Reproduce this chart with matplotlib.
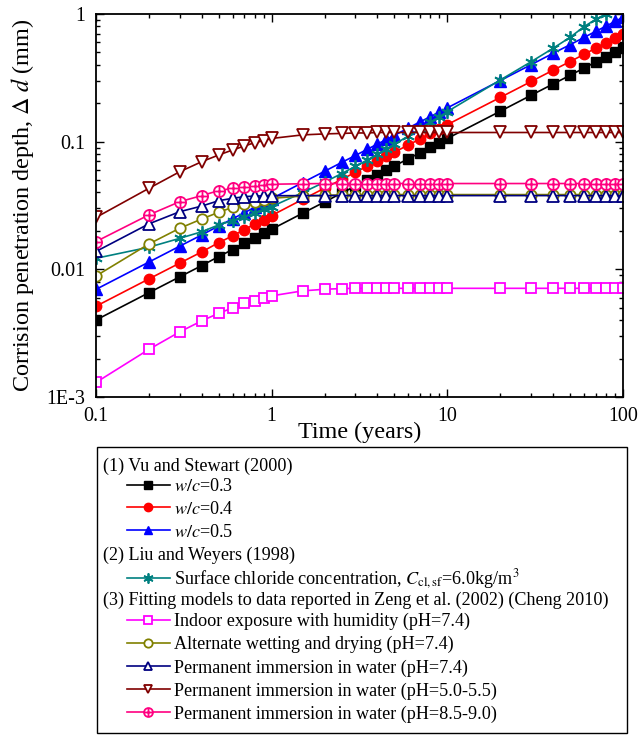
import matplotlib
matplotlib.use("Agg")
import matplotlib.pyplot as plt
from matplotlib.path import Path
from matplotlib.patches import Rectangle
from matplotlib.ticker import LogLocator, NullFormatter

plt.rcParams['font.family'] = ['Liberation Serif', 'DejaVu Serif']
plt.rcParams['mathtext.fontset'] = 'stix'

# time axis (years)
time_years = [0.1, 0.2, 0.3, 0.4, 0.5, 0.6, 0.7, 0.8, 0.9, 1.0,
              1.5, 2, 2.5, 3, 3.5, 4, 4.5, 5, 6, 7, 8, 9, 10,
              20, 30, 40, 50, 60, 70, 80, 90, 100]

# (1) Vu and Stewart (2000)
wc_03 = [0.00401, 0.00656, 0.00874, 0.0107, 0.0126, 0.0143, 0.0160, 0.0176, 0.0191, 0.0206,
         0.0275, 0.0337, 0.0395, 0.0449, 0.0501, 0.0551, 0.0599, 0.0646, 0.0735, 0.0820,
         0.0902, 0.0981, 0.106, 0.173, 0.231, 0.283, 0.331, 0.377, 0.421, 0.462, 0.503, 0.542]
wc_04 = [0.00514, 0.00841, 0.0112, 0.0137, 0.0162, 0.0183, 0.0205, 0.0226, 0.0245, 0.0264,
         0.0353, 0.0432, 0.0506, 0.0576, 0.0642, 0.0706, 0.0768, 0.0828, 0.0942, 0.105,
         0.116, 0.126, 0.136, 0.222, 0.296, 0.363, 0.424, 0.483, 0.540, 0.592, 0.645, 0.695]
wc_05 = [0.00697, 0.0114, 0.0152, 0.0186, 0.0219, 0.0249, 0.0278, 0.0306, 0.0332, 0.0358,
         0.0478, 0.0586, 0.0687, 0.0780, 0.0871, 0.0958, 0.104, 0.112, 0.128, 0.143,
         0.157, 0.170, 0.184, 0.301, 0.401, 0.492, 0.575, 0.655, 0.732, 0.803, 0.874, 0.942]

# (2) Liu and Weyers (1998)
liu_weyers = [0.0122, 0.0149, 0.0175, 0.0197, 0.0223, 0.0241, 0.0259, 0.0278, 0.0295, 0.031,
              0.0399, 0.0482, 0.0562, 0.0641, 0.0719, 0.0797, 0.0875, 0.0953, 0.111, 0.126,
              0.142, 0.157, 0.172, 0.304, 0.423, 0.539, 0.657, 0.796, 0.909, 1.0, 1.12, 1.24]

# (3) Zeng et al. (2002) / Cheng (2010)
indoor = [0.0013, 0.00236, 0.00324, 0.00395, 0.00453, 0.00499, 0.0054, 0.00569, 0.00594, 0.0062,
          0.00678, 0.00698, 0.00707, 0.0071, 0.0071, 0.0071, 0.0071, 0.0071, 0.0071, 0.0071,
          0.0071, 0.0071, 0.0071, 0.0071, 0.0071, 0.0071, 0.0071, 0.0071, 0.0071, 0.0071, 0.0071, 0.0071]
wet_dry = [0.00887, 0.0158, 0.021, 0.0248, 0.028, 0.0306, 0.0325, 0.0339, 0.0349, 0.036,
           0.0375, 0.038, 0.0383, 0.0384, 0.0385, 0.0385, 0.0385, 0.0385, 0.0385, 0.0385,
           0.0385, 0.0385, 0.0385, 0.0385, 0.0385, 0.0385, 0.0385, 0.0385, 0.0385, 0.0385, 0.0385, 0.0385]
immersion_74 = [0.0138, 0.0227, 0.0283, 0.0313, 0.0345, 0.036, 0.0371, 0.0375, 0.0376, 0.0377,
                0.0378, 0.0378, 0.0378, 0.0378, 0.0378, 0.0378, 0.0378, 0.0378, 0.0378, 0.0378,
                0.0378, 0.0378, 0.0378, 0.0378, 0.0378, 0.0378, 0.0378, 0.0378, 0.0378, 0.0378, 0.0378, 0.0378]
immersion_50 = [0.0255, 0.0431, 0.0582, 0.0697, 0.0787, 0.0861, 0.0925, 0.0982, 0.102, 0.106,
                0.113, 0.115, 0.116, 0.117, 0.117, 0.118, 0.118, 0.118, 0.118, 0.118,
                0.118, 0.118, 0.118, 0.118, 0.118, 0.118, 0.118, 0.118, 0.118, 0.118, 0.118, 0.118]
immersion_85 = [0.0165, 0.0267, 0.0339, 0.0378, 0.0414, 0.0431, 0.0445, 0.0452, 0.0458, 0.0464,
                0.0468, 0.047, 0.047, 0.047, 0.047, 0.047, 0.047, 0.047, 0.047, 0.047,
                0.047, 0.047, 0.047, 0.047, 0.047, 0.047, 0.047, 0.047, 0.047, 0.047, 0.047, 0.047]

W, H = 639, 735


def fx(x):
    return x / W


def fy(y):
    return 1 - y / H


# circle with a cross, like the Origin "crossed circle" symbol
oplus = Path.make_compound_path(
    Path.unit_circle(),
    Path([[-1, 0], [1, 0], [0, -1], [0, 1]],
         [Path.MOVETO, Path.LINETO, Path.MOVETO, Path.LINETO]))

fig = plt.figure(figsize=(W / 100, H / 100), dpi=100)
ax = fig.add_axes([fx(96), fy(397), (623 - 96) / W, (397 - 14) / H])

lw = 1.2
g1 = []
g1 += ax.plot(time_years, wc_03, color='black', lw=lw, marker='s', ms=6.5, label='$w/c$=0.3')
g1 += ax.plot(time_years, wc_04, color='red', lw=lw, marker='o', ms=7.5, label='$w/c$=0.4')
g1 += ax.plot(time_years, wc_05, color='blue', lw=lw, marker='^', ms=8, label='$w/c$=0.5')
g2 = ax.plot(time_years, liu_weyers, color='#008080', lw=lw, marker=(6, 2, 0), ms=9, mew=1.3,
             label=r'Surface chloride concentration, $C_{\mathrm{cl,sf}}$=6.0kg/m$^3$')
g3 = []
g3 += ax.plot(time_years, indoor, color='#ff00ff', lw=lw, marker='s', ms=6.5, mfc='white', mew=1.3,
              label='Indoor exposure with humidity (pH=7.4)')
g3 += ax.plot(time_years, wet_dry, color='#808000', lw=lw, marker='o', ms=7.5, mfc='white', mew=1.3,
              label='Alternate wetting and drying (pH=7.4)')
g3 += ax.plot(time_years, immersion_74, color='#000080', lw=lw, marker='^', ms=8, mfc='white', mew=1.3,
              label='Permanent immersion in water (pH=7.4)')
g3 += ax.plot(time_years, immersion_50, color='#800000', lw=lw, marker='v', ms=8, mfc='white', mew=1.3,
              label='Permanent immersion in water (pH=5.0-5.5)')
g3 += ax.plot(time_years, immersion_85, color='#ff0080', lw=lw, marker=oplus, ms=8, mfc='white', mew=1.3,
              label='Permanent immersion in water (pH=8.5-9.0)')

ax.set_xscale('log')
ax.set_yscale('log')
ax.set_xlim(0.1, 100)
ax.set_ylim(1e-3, 1)
ax.set_xticks([0.1, 1, 10, 100], labels=['0.1', '1', '10', '100'])
ax.set_yticks([1e-3, 0.01, 0.1, 1], labels=['1E-3', '0.01', '0.1', '1'])
ax.xaxis.set_minor_locator(LogLocator(base=10, subs=range(2, 10)))
ax.yaxis.set_minor_locator(LogLocator(base=10, subs=range(2, 10)))
ax.xaxis.set_minor_formatter(NullFormatter())
ax.yaxis.set_minor_formatter(NullFormatter())
ax.tick_params(which='both', direction='in', top=True, right=True, width=1, labelsize=14.4)
ax.tick_params(which='major', length=6)
ax.tick_params(which='minor', length=3)
ax.tick_params(axis='y', pad=8)
ax.tick_params(axis='x', pad=7)
for sp in ax.spines.values():
    sp.set_linewidth(1.3)

ax.set_xlabel('Time (years)', fontsize=17.4, labelpad=-3)
ax.set_ylabel(r'Corrision penetration depth, $\Delta$ $d$ (mm)', fontsize=17.4, labelpad=7)

# legend panel below the plot
fig.patches.append(Rectangle((fx(97), fy(733)), (627 - 97) / W, (733 - 447) / H,
                             transform=fig.transFigure, fill=False, ec='black', lw=1))

lfs = 13.1
opts = dict(frameon=False, fontsize=lfs, numpoints=1, handlelength=2.35, handletextpad=0.25,
            labelspacing=0.32, borderpad=0, borderaxespad=0, markerscale=0.8, loc='upper left')

fig.text(fx(103), fy(466), '(1) Vu and Stewart (2000)', fontsize=lfs, va='center')
fig.legend(handles=g1, bbox_to_anchor=(fx(127), fy(478)), **opts)
fig.text(fx(103), fy(555), '(2) Liu and Weyers (1998)', fontsize=lfs, va='center')
fig.legend(handles=g2, bbox_to_anchor=(fx(127), fy(567)), **opts)
fig.text(fx(103), fy(600), '(3) Fitting models to data reported in Zeng et al. (2002) (Cheng 2010)',
         fontsize=lfs, va='center')
fig.legend(handles=g3, bbox_to_anchor=(fx(127), fy(613)), **opts)

plt.savefig('out.png', dpi=100)
